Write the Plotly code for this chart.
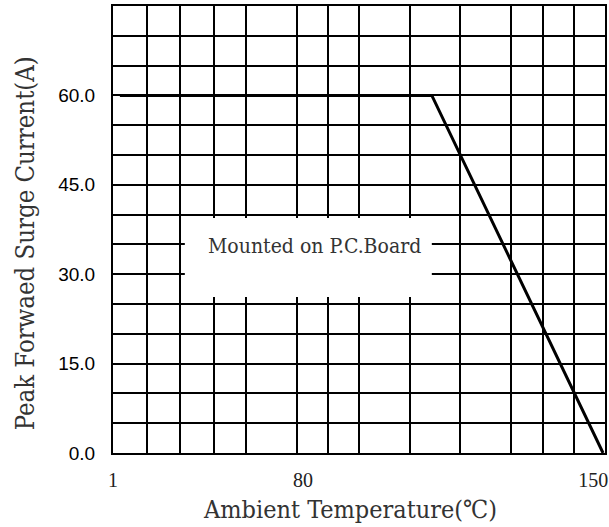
import plotly.graph_objects as go

# Horizontal positions on the chart's (non-linear, schematic) temperature scale,
# expressed as percent of plot width.
grid_x = [0, 6.9, 13.6, 20.5, 27.0, 37.4, 43.7, 50.0, 60.4, 70.5, 80.9, 87.4, 93.7, 100]
x_tick_pos = [0, 38.6, 97.6]
x_tick_text = ["1", "80", "150"]

# Current axis (A)
y_grid = list(range(0, 80, 5))
y_tick_text = [f"{v:.1f}" if v % 15 == 0 and v <= 60 else "" for v in y_grid]

# Derating curve
curve_x = [1.4, 64.8, 99.6]
curve_y = [60.0, 60.0, 0.0]

note_text = "Mounted on P.C.Board"
x_title = "Ambient Temperature(℃)"
y_title = "Peak Forwaed Surge Current(A)"

serif = "DejaVu Serif Condensed, Liberation Serif, serif"

fig = go.Figure()
fig.add_trace(go.Scatter(
    x=curve_x, y=curve_y, mode="lines",
    line=dict(color="black", width=3), hoverinfo="skip", showlegend=False,
))

fig.update_layout(
    width=609, height=527,
    margin=dict(l=113, r=4, t=6, b=74, autoexpand=False),
    paper_bgcolor="white", plot_bgcolor="white",
    showlegend=False,
    xaxis=dict(
        range=[0, 100], tickmode="array", tickvals=x_tick_pos, ticktext=x_tick_text,
        showgrid=False, zeroline=False, automargin=False,
        showline=True, mirror=True, linecolor="black", linewidth=2,
        ticks="outside", ticklen=8, tickcolor="rgba(0,0,0,0)",
        tickfont=dict(family="Liberation Serif, serif", size=20, color="#222"),
        minor=dict(tickmode="array", tickvals=grid_x, showgrid=True,
                   gridcolor="black", gridwidth=2, ticks=""),
    ),
    yaxis=dict(
        range=[0, 75], tickmode="array", tickvals=y_grid, ticktext=y_tick_text,
        showgrid=True, gridcolor="black", gridwidth=2, zeroline=False, automargin=False,
        showline=True, mirror=True, linecolor="black", linewidth=2,
        ticks="outside", ticklen=12, tickcolor="rgba(0,0,0,0)",
        tickfont=dict(family="Liberation Sans, Arial, sans-serif", size=19, color="black"),
    ),
    shapes=[dict(type="rect", xref="paper", yref="paper",
                 x0=0.146, x1=0.648, y0=0.349, y1=0.526,
                 fillcolor="white", line=dict(width=0), layer="above")],
    annotations=[
        dict(text=note_text, xref="paper", yref="paper", x=0.41, y=0.463,
             xanchor="center", yanchor="middle", showarrow=False,
             font=dict(family=serif, size=21, color="#333")),
        dict(text=x_title, xref="paper", yref="paper", x=0.482, y=-0.1275,
             xanchor="center", yanchor="middle", showarrow=False,
             font=dict(family=serif, size=25, color="#333")),
        dict(text=y_title, xref="paper", yref="paper", x=-0.18, y=0.47,
             xanchor="center", yanchor="middle", showarrow=False, textangle=-90,
             font=dict(family=serif, size=25.5, color="#333")),
    ],
)

fig.write_html(
    "out.html",
    config={"displayModeBar": False},
    post_script="document.body.style.margin='0px';document.body.style.overflow='hidden';",
)
